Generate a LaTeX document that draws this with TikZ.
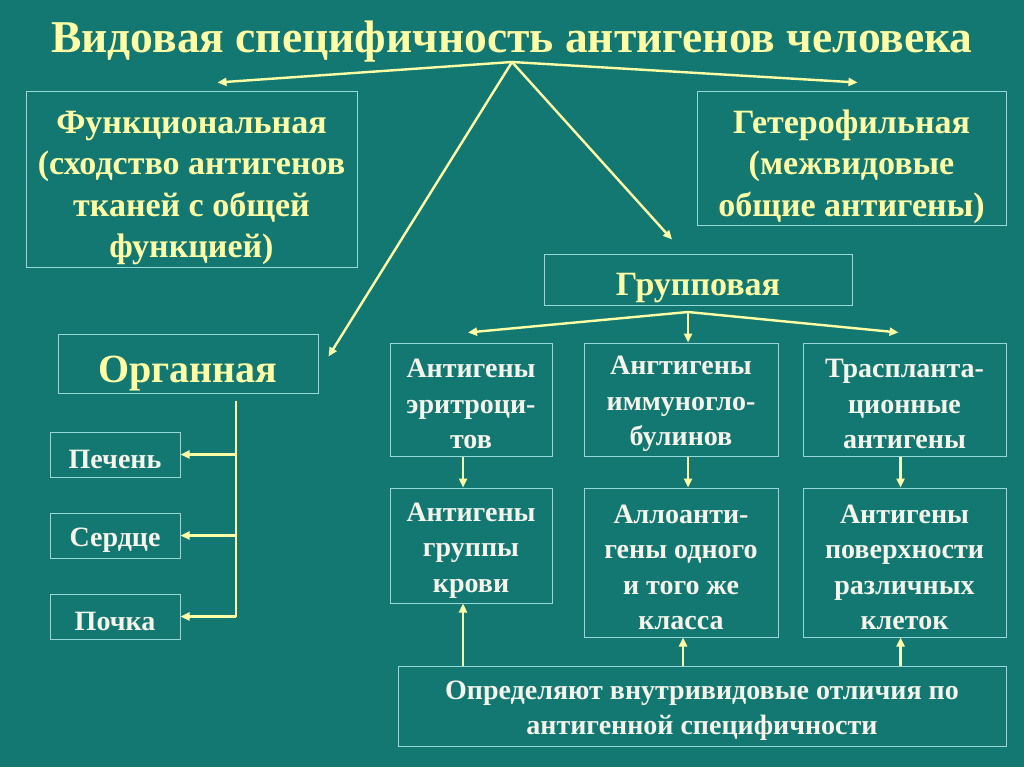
\documentclass[tikz,border=0pt]{standalone}
\usepackage{fontspec}
\setmainfont{Liberation Serif}
\usetikzlibrary{arrows.meta}
\definecolor{slidebg}{RGB}{20,120,114}
\definecolor{pale}{RGB}{255,255,165}
\definecolor{rim}{RGB}{150,215,215}
\definecolor{snow}{RGB}{245,245,235}

\begin{document}
\begin{tikzpicture}[x=1pt, y=-1pt, >={Triangle[length=9pt,width=8pt]},
	box/.style={draw=rim, line width=1pt, align=flush center, inner sep=0pt, text=snow, font=\bfseries\fontsize{28}{35.5}\selectfont, execute at begin node={\rule{0pt}{1em}}},
	head/.style={box, text=pale, font=\bfseries\fontsize{34}{41.5}\selectfont, execute at begin node={\rule{0pt}{1.15em}}},
	link/.style={pale, line width=2.4pt, ->}]
	\fill[slidebg] (0,0) rectangle (1024,767);
	\useasboundingbox (0,0) rectangle (1024,767);
	% title and first level
	\node[anchor=base, text=pale, font=\bfseries\fontsize{45.5}{46}\selectfont] (title) at (512,53) {Видовая специфичность антигенов человека};
	\coordinate (hub) at (512,62);
	\node[head, text width=331, minimum height=175] (func) at (191.5,179.5) {Функциональная\\(сходство антигенов\\тканей с общей\\функцией)};
	\node[head, text width=309, minimum height=134] (hetero) at (851.5,159) {Гетерофильная\\(межвидовые\\общие антигены)};
	\node[head, text width=308, minimum height=51, execute at begin node={}] (group) at (698,279.5) {Групповая};
	\node[head, text width=260, minimum height=59, font=\bfseries\fontsize{40}{44}\selectfont, execute at begin node={}] (organ) at (188,363.5) {Органная};
	\draw[link] (hub) -- ([xshift=26pt,yshift=9pt]func.north);
	\draw[link] (hub) -- ([xshift=6pt,yshift=9pt]hetero.north);
	\draw[link] (hub) -- ([xshift=-26pt,yshift=14pt]group.north);
	\draw[link] (hub) -- ([xshift=10pt,yshift=7pt]organ.east);
	% organs
	\node[box, text width=130, minimum height=45] (liver) at (115,454.5) {Печень};
	\node[box, text width=130, minimum height=45] (heart) at (115,535.5) {Сердце};
	\node[box, text width=130, minimum height=45] (kidney) at (115,616.5) {Почка};
	\coordinate (trunk) at ([xshift=48pt,yshift=-7pt]organ.south);
	\draw[pale, line width=2.4pt] (trunk) -- (trunk |- kidney.east);
	\foreach \n in {liver,heart,kidney} {\draw[link] (trunk |- \n.east) -- (\n.east);}
	% group antigens
	\node[box, text width=162, minimum height=113] (ery) at (471,399.5) {Антигены\\эритроци-\\тов};
	\node[box, text width=194, minimum height=113] (immuno) at (681,399.5) {Ангтигены\\иммуногло-\\булинов};
	\node[box, text width=203, minimum height=113] (transp) at (904.5,399.5) {Трасплан{}та-\\ционные\\антигены};
	\node[box, text width=162, minimum height=115] (blood) at (471,545.5) {Антигены\\группы\\крови};
	\node[box, text width=194, minimum height=149] (allo) at (681,562.5) {Аллоанти-\\гены одного\\и того же\\класса};
	\node[box, text width=203, minimum height=149] (surf) at (904.5,562.5) {Антигены\\поверхности\\различных\\клеток};
	\node[box, text width=608, minimum height=80] (intra) at (702,706) {Определяют внутривидовые отличия по\\антигенной специфичности};
	\coordinate (ghub) at (688,312);
	\draw[link] (ghub) -- ([xshift=-3pt,yshift=10pt]ery.north);
	\draw[link] (ghub) -- (ghub |- immuno.north);
	\draw[link] (ghub) -- ([xshift=-6pt,yshift=10pt]transp.north);
	\draw[link] ([xshift=-8pt]ery.south) -- ([xshift=-8pt]blood.north);
	\draw[link] ([xshift=7pt]immuno.south) -- ([xshift=7pt]allo.north);
	\draw[link] ([xshift=-4pt]transp.south) -- ([xshift=-4pt]surf.north);
	\draw[link] ([xshift=-8pt]blood.south |- intra.north) -- ([xshift=-8pt]blood.south);
	\draw[link] ([xshift=2pt]allo.south |- intra.north) -- ([xshift=2pt]allo.south);
	\draw[link] ([xshift=-4pt]surf.south |- intra.north) -- ([xshift=-4pt]surf.south);
\end{tikzpicture}
\end{document}
